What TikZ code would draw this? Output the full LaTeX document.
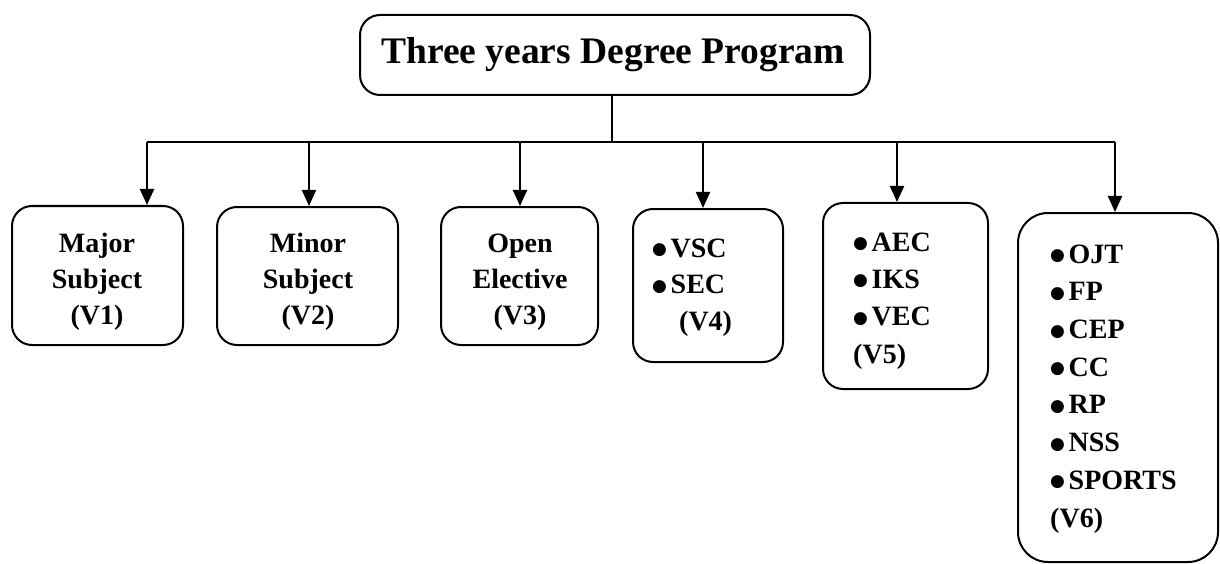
\documentclass[tikz,border=0pt]{standalone}
\usepackage{fontspec}
\setmainfont{Liberation Serif}
\newfontfamily\symf{DejaVu Sans}
\usetikzlibrary{arrows.meta}
\newcommand\bul{\makebox[18.5pt][l]{\raisebox{2.5pt}{\symf\fontsize{17}{17}\selectfont ●}}}
\begin{document}
\begin{tikzpicture}[x=1pt,y=-1pt,
  box/.style={draw, line width=2pt, rounded corners=20pt, inner sep=0pt},
  txt/.style={font=\fontsize{28}{36}\selectfont\bfseries, inner sep=0pt, anchor=base},
  conn/.style={line width=2pt},
  arr/.style={line width=2pt, -{Triangle[width=14pt,length=16pt]}}]
\useasboundingbox (0,0) rectangle (1220,564);
% boxes
\node[box, minimum width=510pt, minimum height=80pt] (top) at (615,55) {};
\node[box, minimum width=171pt, minimum height=139pt] (b1) at (97.5,275.5) {};
\node[box, minimum width=181pt, minimum height=138pt] (b2) at (307.5,276) {};
\node[box, minimum width=157pt, minimum height=138pt] (b3) at (519.5,276) {};
\node[box, minimum width=150pt, minimum height=153pt] (b4) at (708,285.5) {};
\node[box, minimum width=165pt, minimum height=186pt] (b5) at (905.5,296) {};
\node[box, rounded corners=30pt, minimum width=200pt, minimum height=349pt] (b6) at (1118,387.5) {};
% texts
\node[txt, font=\fontsize{37.5}{40}\selectfont\bfseries] (tt) at (613,64) {Three years Degree Program};
\node[txt, align=center] (t1) at (97,324) {Major\\Subject\\(V1)};
\node[txt, align=center] (t2) at (308,324) {Minor\\Subject\\(V2)};
\node[txt, align=center] (t3) at (520,324) {Open\\Elective\\(V3)};
\node[txt, anchor=base west, align=left, font=\fontsize{28}{36.5}\selectfont\bfseries] (t4) at (652,330) {\bul VSC\\\bul SEC\\\hspace*{27pt}(V4)};
\node[txt, anchor=base west, align=left, font=\fontsize{28}{37.3}\selectfont\bfseries] (t5) at (853,363) {\bul AEC\\\bul IKS\\\bul VEC\\(V5)};
\node[txt, anchor=base west, align=left, font=\fontsize{28}{37.7}\selectfont\bfseries] (t6) at (1050,527) {\bul OJT\\\bul FP\\\bul CEP\\\bul CC\\\bul RP\\\bul NSS\\\bul SPORTS\\(V6)};
% connectors
\coordinate (j) at (612,142);
\coordinate (h1) at (147,142);
\coordinate (h2) at (309,142);
\coordinate (h3) at (520,142);
\coordinate (h4) at (703,142);
\coordinate (h5) at (897,142);
\coordinate (h6) at (1115,142);
\draw[conn] (top.south -| j) -- (j);
\draw[conn] (h1) -- (h6);
\draw[arr] (h1) -- (h1 |- b1.north);
\draw[arr] (h2) -- (h2 |- b2.north);
\draw[arr] (h3) -- (h3 |- b3.north);
\draw[arr] (h4) -- (h4 |- b4.north);
\draw[arr] (h5) -- (h5 |- b5.north);
\draw[arr] (h6) -- (h6 |- b6.north);
\end{tikzpicture}
\end{document}
